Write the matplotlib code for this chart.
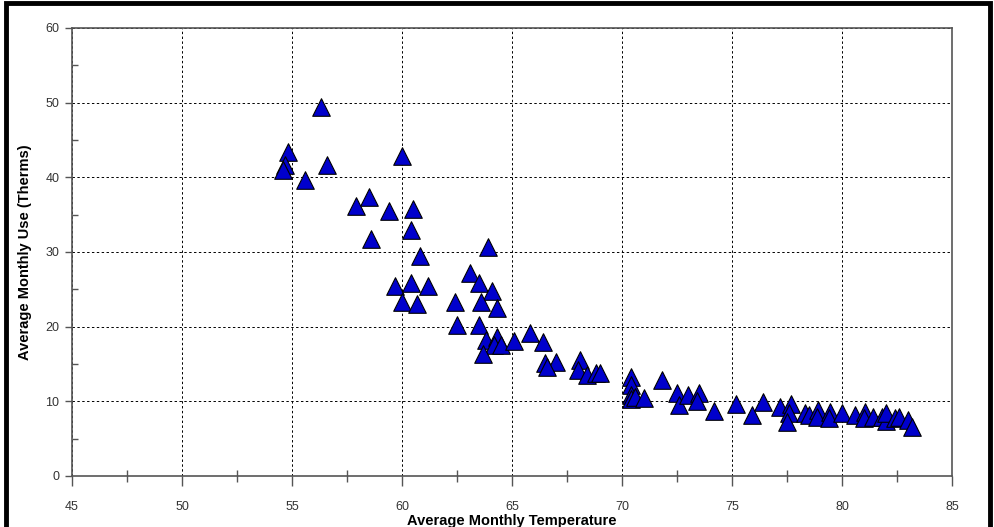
import matplotlib
matplotlib.use('Agg')
import matplotlib.pyplot as plt
from matplotlib.patches import Rectangle
from matplotlib.ticker import MultipleLocator

# Average monthly temperature vs average monthly use (therms)
temperature = [
    56.3, 54.8, 54.7, 54.6, 56.6, 55.6, 60.0,
    58.5, 57.9, 59.4, 60.5, 60.4, 58.6, 60.8, 63.9,
    63.1, 63.5, 59.7, 60.4, 61.2, 64.1, 60.0, 60.7, 62.4, 63.6, 64.3,
    62.5, 63.5, 63.8, 64.3, 64.2, 64.5, 63.7, 65.1, 65.8, 66.4,
    66.5, 67.0, 66.6, 68.1, 68.0, 68.4, 68.8, 69.0,
    70.4, 70.4, 70.4, 70.4, 70.6, 71.0, 71.8,
    72.5, 72.6, 73.0, 73.5, 73.4, 74.2, 75.2, 75.9, 76.4,
    77.2, 77.7, 77.6, 77.5, 78.3, 78.5, 78.9, 78.85, 79.45, 79.4,
    80.0, 80.6, 81.05, 81.0, 81.4, 81.8, 82.0, 82.0, 82.4, 82.6,
    83.0, 83.2,
]
monthly_use = [
    49.4, 43.4, 41.6, 41.0, 41.6, 39.6, 42.9,
    37.3, 36.1, 35.5, 35.8, 33.0, 31.7, 29.5, 30.7,
    27.2, 25.9, 25.4, 25.8, 25.4, 24.8, 23.3, 23.1, 23.3, 23.3, 22.5,
    20.2, 20.2, 18.2, 18.6, 17.5, 17.5, 16.4, 18.1, 19.1, 17.9,
    15.1, 15.3, 14.6, 15.5, 14.2, 13.5, 13.8, 13.8,
    13.2, 12.2, 10.8, 10.3, 10.6, 10.5, 12.9,
    11.1, 9.5, 10.8, 11.1, 10.0, 8.7, 9.7, 8.2, 9.9,
    9.3, 9.6, 8.4, 7.2, 8.4, 8.2, 8.8, 7.9, 8.6, 7.7,
    8.4, 8.2, 8.6, 7.7, 7.9, 7.9, 7.3, 8.4, 7.7, 7.9,
    7.5, 6.6,
]

plt.rcParams['font.family'] = ['Liberation Sans', 'DejaVu Sans']

fig = plt.figure(figsize=(9.95, 5.27), dpi=100)
ax = fig.add_axes([0.0724, 0.0968, 0.8844, 0.8501])

ax.scatter(temperature, monthly_use, marker='^', s=160, color='#0000cc',
           edgecolors='black', linewidths=0.8, zorder=3)

ax.set_xlim(45, 85)
ax.set_ylim(0, 60)
ax.xaxis.set_major_locator(MultipleLocator(5))
ax.xaxis.set_minor_locator(MultipleLocator(2.5))
ax.yaxis.set_major_locator(MultipleLocator(10))
ax.yaxis.set_minor_locator(MultipleLocator(5))

ax.grid(True, which='major', linestyle=(0, (2.5, 2.5)), color='black', linewidth=0.7)

ax.tick_params(axis='x', which='major', direction='out', length=7, width=1,
               color='#555555', pad=11, labelsize=9, labelcolor='#333333')
ax.tick_params(axis='x', which='minor', direction='inout', length=9, width=1,
               color='#555555')
ax.tick_params(axis='y', which='major', direction='out', length=5, width=1,
               color='#555555', pad=4, labelsize=9, labelcolor='#333333')
ax.tick_params(axis='y', which='minor', direction='in', length=4, width=1,
               color='#555555')

for side in ax.spines.values():
    side.set_color('#555555')
    side.set_linewidth(1.2)

ax.set_xlabel('Average Monthly Temperature', fontsize=10.5, fontweight='bold', labelpad=1)
ax.set_ylabel('Average Monthly Use (Therms)', fontsize=10.5, fontweight='bold', labelpad=10)

# thick black frame around the whole picture
fig.patches.append(Rectangle((0.006, -0.05), 0.989, 1.045, transform=fig.transFigure,
                             fill=False, edgecolor='black', linewidth=3.5, clip_on=False))

fig.savefig('out.png', dpi=100)
